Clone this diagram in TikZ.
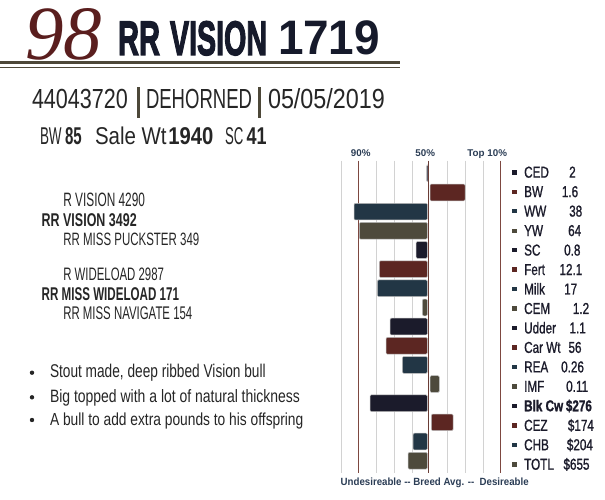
\documentclass[tikz,border=0pt]{standalone}
\usepackage{fontspec}
\usepackage{graphicx}
\setmainfont{Liberation Sans}
\newfontfamily\legf[FakeStretch=0.74,FakeBold=1]{Liberation Sans}
\newfontfamily\titlef[FakeBold=3]{Liberation Sans}
\newfontfamily\numserif{Liberation Serif}
\definecolor{maroonnum}{HTML}{5A1E1E}
\definecolor{titlenavy}{HTML}{161A2B}
\definecolor{rulecol}{HTML}{4D4839}
\definecolor{txtdark}{HTML}{262626}
\definecolor{bnavy}{HTML}{1B1B2B}
\definecolor{bmaroon}{HTML}{5C2622}
\definecolor{bteal}{HTML}{223645}
\definecolor{bolive}{HTML}{4E4A3C}
\definecolor{gridc}{HTML}{D2D2D2}
\definecolor{brownline}{HTML}{7D4840}
\definecolor{slatetxt}{HTML}{2B3D55}
% width #1, cap height #2, text #3
\newcommand\fb[3]{\resizebox{#1pt}{\height}{\fontsize{\fpeval{#2/0.688}}{\fpeval{#2/0.688*1.2}}\selectfont #3}}
\newcommand\fbh[3]{\resizebox{#1pt}{#2pt}{#3}}
\begin{document}
\begin{tikzpicture}[x=1pt,y=-1pt,
  txt/.style={inner sep=0pt, outer sep=0pt, anchor=base west},
  hdr/.style={inner sep=0pt, anchor=base, text=slatetxt, font=\fontsize{9.8}{10}\selectfont\bfseries},
  legtxt/.style={inner sep=0pt, anchor=base west, text=bnavy, font=\fontsize{15.8}{16}\legf},
  barbox/.style={rounded corners=1.2pt, draw=black!25, line width=0.5pt}]
\useasboundingbox (0,0) rectangle (605,500);
\fill[white] (0,0) rectangle (605,500);
% title
\node[txt, text=maroonnum] (num) at (25,60) {\fbh{77}{51}{\numserif\itshape 98}};
\node[txt, text=titlenavy] (rr) at (118,55) {\fb{42}{33.3}{\titlef\bfseries RR}};
\node[txt, text=titlenavy] (vision) at (170,55) {\fb{97}{33.3}{\titlef\bfseries VISION}};
\node[txt, text=titlenavy] (tnum) at (278,55) {\fb{102}{33.3}{\bfseries 1719}};
\fill[rulecol] (0,61) rectangle (400,64.3);
\fill[rulecol] (0,67) rectangle (400,68.2);
% info line
\node[txt, text=txtdark] (tag) at (32,109) {\fb{96}{19}{44043720}};
\fill[rulecol] (137,87) rectangle (139.5,118);
\node[txt, text=txtdark] (dehorn) at (146,109) {\fb{106}{19}{DEHORNED}};
\fill[rulecol] (258,87) rectangle (260.5,118);
\node[txt, text=txtdark] (date) at (268,109) {\fb{117}{19}{05/05/2019}};
% BW line
\node[txt, text=txtdark] (bwl) at (40,145) {\fb{21.7}{16.7}{BW}};
\node[txt, text=txtdark] (bwv) at (65,145) {\fb{16.7}{16.7}{\bfseries 85}};
\node[txt, text=txtdark] (salel) at (95,145) {\fb{71.7}{16.7}{Sale Wt}};
\node[txt, text=txtdark] (salev) at (168.3,145) {\fb{45}{16.7}{\bfseries 1940}};
\node[txt, text=txtdark] (scl) at (225,145) {\fb{18.3}{16.7}{SC}};
\node[txt, text=txtdark] (scv) at (246.7,145) {\fb{20}{16.7}{\bfseries 41}};
% pedigree
\node[txt, text=txtdark] (p1) at (63.3,206.7) {\fb{81.7}{13.3}{R VISION 4290}};
\node[txt, text=txtdark] (p2) at (41.7,226) {\fb{95}{12.7}{\bfseries RR VISION 3492}};
\node[txt, text=txtdark] (p3) at (63.3,245) {\fb{136}{12.3}{RR MISS PUCKSTER 349}};
\node[txt, text=txtdark] (p4) at (63.3,280.7) {\fb{100.7}{12.4}{R WIDELOAD 2987}};
\node[txt, text=txtdark] (p5) at (41.7,300) {\fb{137.3}{12.7}{\bfseries RR MISS WIDELOAD 171}};
\node[txt, text=txtdark] (p6) at (63.3,319.3) {\fb{129}{12.6}{RR MISS NAVIGATE 154}};
% bullets
\foreach \yy in {372.7,397.3,420}
  \fill[txtdark] (32,\yy) circle[radius=2.2pt];
\node[txt, text=txtdark] (b1) at (50,377.7) {\fb{215.7}{12.7}{Stout made, deep ribbed Vision bull}};
\node[txt, text=txtdark] (b2) at (50,402.3) {\fb{250}{12.3}{Big topped with a lot of natural thickness}};
\node[txt, text=txtdark] (b3) at (50,425) {\fb{253.3}{12.0}{A bull to add extra pounds to his offspring}};
% chart grid
\foreach \x in {341.7,376.7,394.3,412.7,447.3,465.7,483.7}
  \draw[gridc, line width=0.9pt] (\x,160.7) -- (\x,473);
\foreach \x in {358.3,500.3}
  \draw[brownline, line width=0.9pt] (\x,160.7) -- (\x,473);
% bars
\foreach \l/\r/\c [count=\i from 0] in {
  426.5/428.6/bnavy!70, 430/465/bmaroon, 354/427.4/bteal, 359.3/427.4/bolive,
  416/427.4/bnavy, 379.3/427.4/bmaroon, 377.3/427.4/bteal, 422.3/427.4/bolive,
  390/427.4/bnavy, 386/427.4/bmaroon, 402.3/427.4/bteal, 430/439.3/bolive,
  370/427.4/bnavy, 431.3/453/bmaroon, 413/427.4/bteal, 408/427.4/bolive}
  \filldraw[barbox, fill=\c] ({\l},{173.3+19.16*\i-8.35}) rectangle ({\r},{173.3+19.16*\i+8.35});
\draw[brownline!85!black, line width=1.2pt] (428.3,160.7) -- (428.3,473);
% chart headers
\node[hdr] (h90) at (360.7,156.7) {90\%};
\node[hdr] (h50) at (425.3,156.7) {50\%};
\node[hdr] (h10) at (487.2,156.7) {Top 10\%};
\node[txt, text=slatetxt] (foot) at (340.7,485) {\fb{188}{7.2}{\bfseries Undesireable -{}- Breed Avg. -{}-\ \ Desireable}};
% legend
\foreach \lab/\val/\vx/\c [count=\i from 0] in {
  CED/2/569/bnavy, BW/1.6/561.7/bmaroon, WW/38/569/bteal, YW/64/568/bolive,
  SC/0.8/564/bnavy, Fert/12.1/559.3/bmaroon, Milk/17/564/bteal, CEM/1.2/572.7/bolive,
  Udder/1.1/569.3/bnavy, Car Wt/56/568.3/bmaroon, REA/0.26/561/bteal, IMF/0.11/566/bolive,
  {\bfseries Blk Cw}/{\bfseries\$276}/565.7/bnavy, CEZ/\$174/567.7/bmaroon, CHB/\$204/566.7/bteal, TOTL/\$655/563.3/bolive} {
  \fill[\c] ({514.5-2.2},{172.3+19.47*\i-2.2}) rectangle ({514.5+2.2},{172.3+19.47*\i+2.2});
  \node[legtxt] (leg\i) at (524,{172.3+19.47*\i+5.35}) {\lab};
  \node[legtxt] (val\i) at (\vx,{172.3+19.47*\i+5.35}) {\val};
}
\end{tikzpicture}
\end{document}
